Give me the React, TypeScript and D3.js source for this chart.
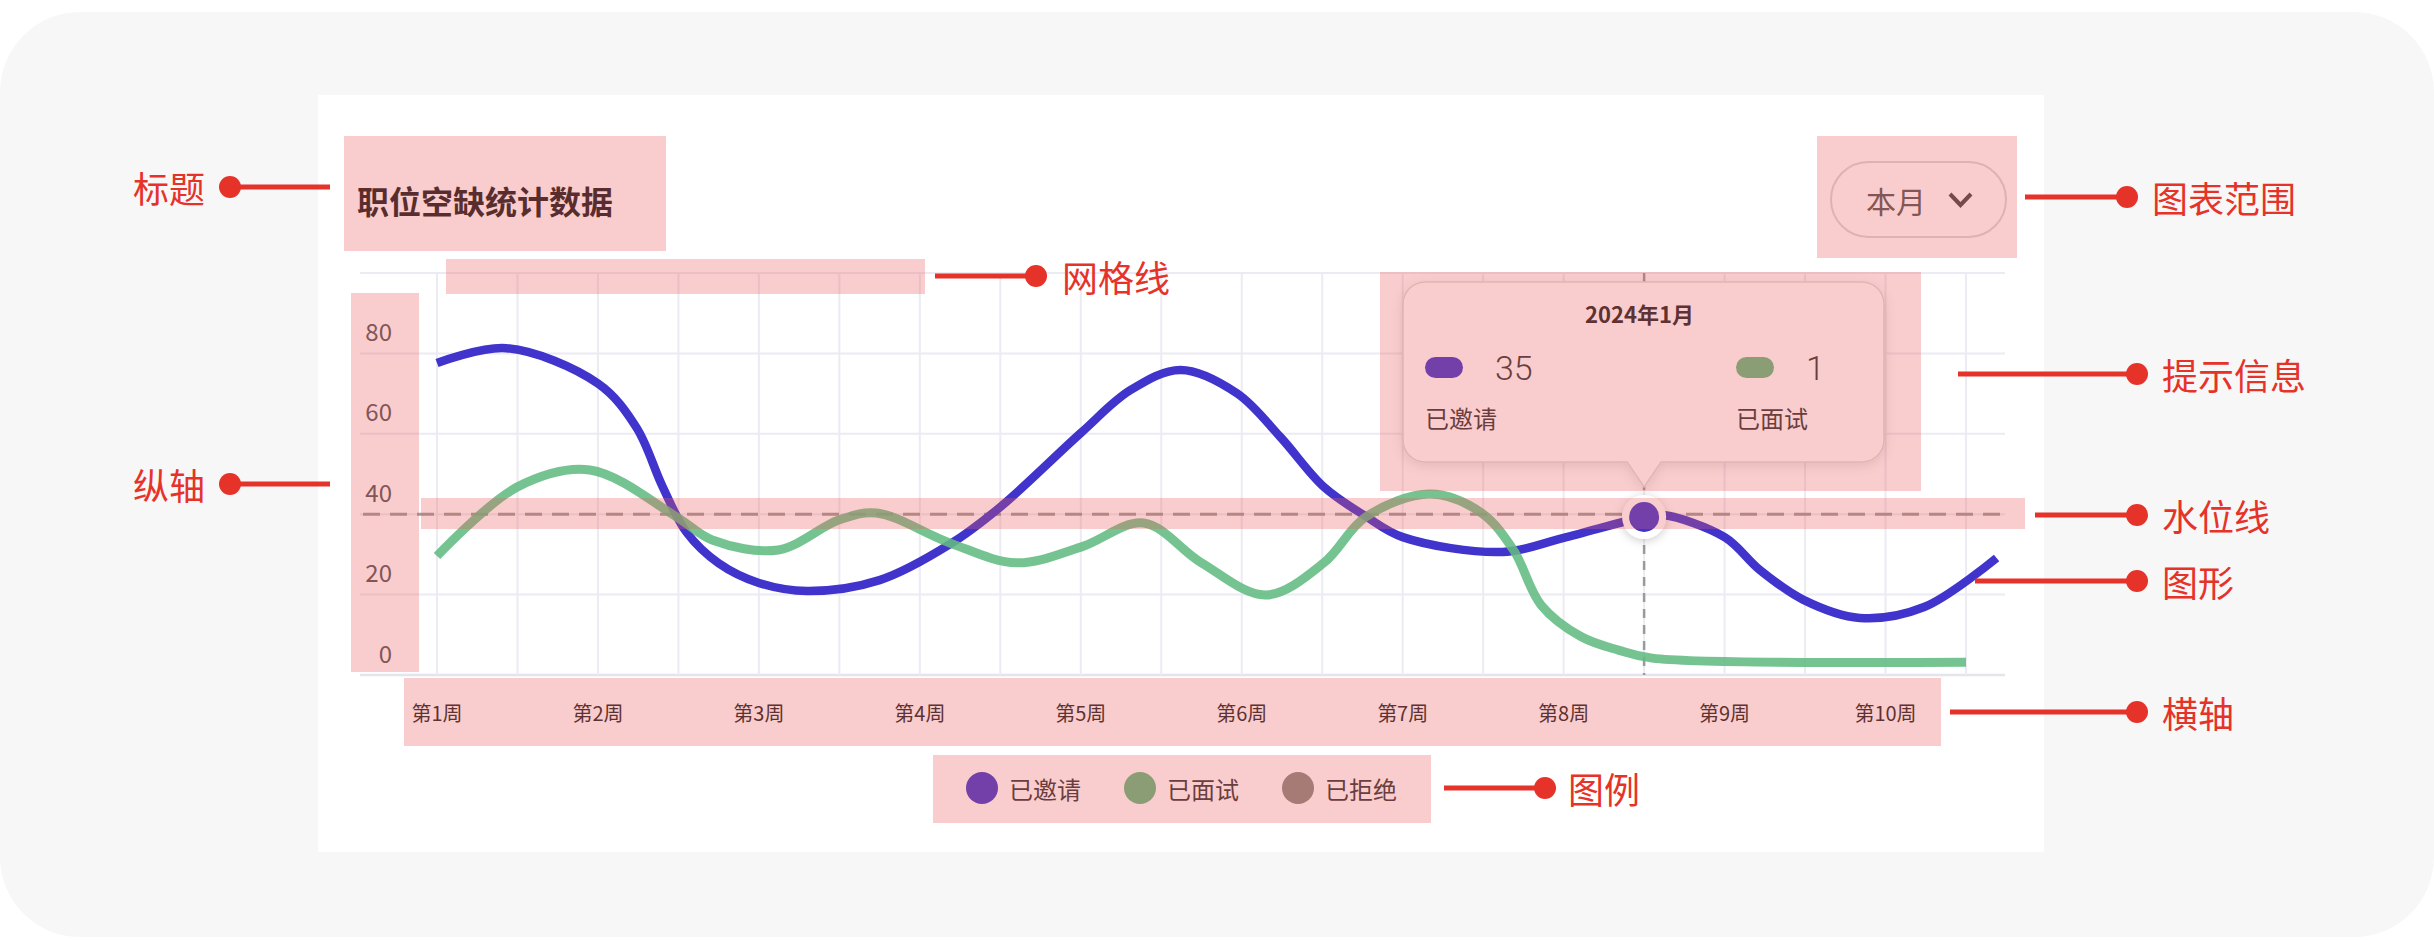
import React from 'react';
import * as d3 from 'd3';

// ---------- data ----------
const weekLabels = ['第1周', '第2周', '第3周', '第4周', '第5周', '第6周', '第7周', '第8周', '第9周', '第10周'];
const weekNums = [1, 2, 3, 4, 5, 6, 7, 8, 9, 10];
const yTickValues = [0, 20, 40, 60, 80];
const gridYValues = [0, 20, 40, 60, 80, 100];
const gridXWeeks = [1, 1.5, 2, 2.5, 3, 3.5, 4, 4.5, 5, 5.5, 6, 6.5, 7, 7.5, 8, 8.5, 9, 9.5, 10, 10.5];

const invitedWeeks = [1.0, 1.43, 2.0, 2.24, 2.4, 2.55, 2.75, 3.0, 3.3, 3.75, 4.19, 4.5, 5.0, 5.31, 5.62, 5.97, 6.24, 6.51, 6.77, 7.0, 7.62, 8.0, 8.5, 8.62, 9.0, 9.22, 9.49, 9.84, 10.24, 10.69];
const invitedValues = [77.6, 81.3, 72.5, 61.5, 47.0, 35.5, 27.8, 22.9, 20.9, 23.6, 32.6, 41.8, 60.2, 70.9, 75.9, 70.1, 59.2, 46.8, 39.5, 34.3, 30.6, 34.1, 39.3, 39.8, 34.3, 26.1, 18.7, 14.2, 16.9, 29.1];

const interviewedWeeks = [1.0, 1.5, 1.95, 2.49, 2.71, 3.12, 3.5, 3.73, 4.19, 4.6, 5.0, 5.39, 5.75, 6.15, 6.51, 6.77, 7.17, 7.49, 7.69, 7.86, 8.11, 8.34, 8.55, 10.5];
const interviewedValues = [29.6, 46.8, 51.0, 39.3, 33.6, 31.1, 38.6, 40.3, 32.8, 27.9, 31.8, 37.8, 27.9, 19.9, 27.9, 39.3, 45.0, 40.3, 31.0, 17.4, 9.5, 6.2, 4.2, 3.2];

const seriesNames = ['已邀请', '已面试', '已拒绝'];
const seriesColors = ['#4034cc', '#62bb82', '#888882'];
const markerLevel = 40;
const tooltipWeek = 8.5;
const tooltipTitle = '2024年1月';
const tooltipValues = ['35', '1'];
const chartTitle = '职位空缺统计数据';
const rangeLabel = '本月';

const RED = '#e6332a';
const PINK = 'rgba(235, 90, 90, 0.3)';
const CJK = '"Noto Sans CJK SC", "Noto Sans", sans-serif';

export default function App() {
  const x = d3.scaleLinear().domain([1, 10.5]).range([437, 1966]);
  const y = d3.scaleLinear().domain([0, 100]).range([675, 273]);

  const line = d3
    .line<[number, number]>()
    .x((d) => x(d[0]))
    .y((d) => y(d[1]))
    .curve(d3.curveCatmullRom.alpha(0.5));

  const invitedPath = line(invitedWeeks.map((w, i) => [w, invitedValues[i]]) as [number, number][]) || '';
  const interviewedPath = line(interviewedWeeks.map((w, i) => [w, interviewedValues[i]]) as [number, number][]) || '';

  const tipX = x(tooltipWeek);
  const tipIdx = invitedWeeks.indexOf(tooltipWeek);
  const tipY = y(invitedValues[tipIdx]);

  // tooltip card geometry
  const cx0 = 1403, cy0 = 282, cw = 481, ch = 180, r = 22;
  const tipBottom = 487;
  const cardPath = `M${cx0 + r},${cy0} H${cx0 + cw - r} A${r},${r} 0 0 1 ${cx0 + cw},${cy0 + r} V${cy0 + ch - r} A${r},${r} 0 0 1 ${cx0 + cw - r},${cy0 + ch} H${tipX + 17} L${tipX},${tipBottom} L${tipX - 17},${cy0 + ch} H${cx0 + r} A${r},${r} 0 0 1 ${cx0},${cy0 + ch - r} V${cy0 + r} A${r},${r} 0 0 1 ${cx0 + r},${cy0} Z`;

  const gridColor = '#ebebf3';

  const leftAnnotations = [
    { label: '标题', y: 187 },
    { label: '纵轴', y: 484 },
  ];
  const rightAnnotations = [
    { label: '图表范围', y: 197, x1: 2025, dot: 2127, tx: 2152 },
    { label: '提示信息', y: 374, x1: 1958, dot: 2137, tx: 2162 },
    { label: '水位线', y: 515, x1: 2035, dot: 2137, tx: 2162 },
    { label: '图形', y: 581, x1: 1975, dot: 2137, tx: 2162 },
    { label: '横轴', y: 712, x1: 1950, dot: 2137, tx: 2162 },
  ];
  const midAnnotations = [
    { label: '网格线', y: 276, x1: 935, dot: 1036, tx: 1062 },
    { label: '图例', y: 788, x1: 1444, dot: 1545, tx: 1568 },
  ];

  const pinkBoxes = [
    [344, 136, 322, 115], // title
    [446, 259, 479, 35], // grid
    [351, 293, 68, 379], // y axis
    [1380, 272, 541, 219], // tooltip
    [421, 498, 1604, 31], // marker line
    [404, 678, 1537, 68], // x axis
    [933, 755, 498, 68], // legend
    [1817, 136, 200, 122], // range
  ];

  const legendX = [982, 1140, 1298];

  return (
    <svg
      width={2434}
      height={940}
      style={{ position: 'absolute', left: 0, top: 0, display: 'block' }}
      fontFamily={CJK}
    >
      <defs>
        <filter id="cardShadow" x="-10%" y="-10%" width="120%" height="130%">
          <feDropShadow dx="0" dy="3" stdDeviation="6" floodColor="#000" floodOpacity="0.12" />
        </filter>
        <filter id="haloShadow" x="-100%" y="-100%" width="300%" height="300%">
          <feDropShadow dx="0" dy="2" stdDeviation="5" floodColor="#000" floodOpacity="0.2" />
        </filter>
      </defs>

      <rect x={0} y={0} width={2434} height={940} fill="#ffffff" />
      <rect x={0} y={12} width={2434} height={925} rx={80} ry={80} fill="#f7f7f7" />
      <rect x={318} y={95} width={1726} height={757} fill="#ffffff" />

      {/* grid */}
      {gridYValues.map((v) => (
        <line key={'gy' + v} x1={360} x2={2005} y1={y(v)} y2={y(v)} stroke={v === 0 ? '#e4e4ec' : gridColor} strokeWidth={v === 0 ? 2.5 : 2} />
      ))}
      {gridXWeeks.map((w) => (
        <line key={'gx' + w} x1={x(w)} x2={x(w)} y1={y(100)} y2={y(0)} stroke={gridColor} strokeWidth={2} />
      ))}

      {/* marker line */}
      <line x1={363} x2={2005} y1={y(markerLevel)} y2={y(markerLevel)} stroke="#a09a9a" strokeWidth={3} strokeDasharray="17 10" />
      {/* crosshair */}
      <line x1={tipX} x2={tipX} y1={y(100)} y2={y(0)} stroke="#9a9a9a" strokeWidth={2.5} strokeDasharray="9 7" />

      {/* series */}
      <path d={invitedPath} fill="none" stroke={seriesColors[0]} strokeWidth={8.5} />
      <path d={interviewedPath} fill="none" stroke={seriesColors[1]} strokeWidth={9} strokeOpacity={0.88} />

      {/* hover point */}
      <circle cx={tipX} cy={tipY} r={22} fill="#fff" filter="url(#haloShadow)" />
      <circle cx={tipX} cy={tipY} r={15} fill={seriesColors[0]} />

      {/* tooltip */}
      <path d={cardPath} fill="#ffffff" stroke="#dcdcdc" strokeWidth={1.5} filter="url(#cardShadow)" />
      <text x={cx0 + cw / 2 - 4} y={313} textAnchor="middle" dominantBaseline="central" fontSize={22} fontWeight={700} fill="#222">
        {tooltipTitle}
      </text>
      {[1425, 1736].map((px, i) => (
        <g key={'tt' + i}>
          <rect x={px} y={357} width={38} height={21} rx={10.5} fill={seriesColors[i]} />
          <text x={px + 70} y={368} dominantBaseline="central" fontSize={34} fontWeight={300} fontFamily='Roboto, "Noto Sans", sans-serif' fill="#333">
            {tooltipValues[i]}
          </text>
          <text x={px} y={417} dominantBaseline="central" fontSize={24} fill="#333">
            {seriesNames[i]}
          </text>
        </g>
      ))}

      {/* y axis labels */}
      {yTickValues.map((v) => (
        <text key={'yl' + v} x={392} y={y(v) - 23} textAnchor="end" dominantBaseline="central" fontSize={24} fill="#555">
          {v}
        </text>
      ))}
      {/* x axis labels */}
      {weekNums.map((w, i) => (
        <text key={'xl' + w} x={x(w)} y={712} textAnchor="middle" dominantBaseline="central" fontSize={20} fill="#222">
          {weekLabels[i]}
        </text>
      ))}

      {/* title */}
      <text x={357} y={200} dominantBaseline="central" fontSize={32} fontWeight={700} fill="#1a1a1a">
        {chartTitle}
      </text>

      {/* range selector */}
      <rect x={1831} y={162} width={175} height={75} rx={37.5} fill="#fff" stroke="#d8d8d8" strokeWidth={2} />
      <text x={1866} y={200} dominantBaseline="central" fontSize={30} fill="#555">
        {rangeLabel}
      </text>
      <polyline points="1950,194 1960.5,205 1971,194" fill="none" stroke="#444" strokeWidth={4} />

      {/* legend */}
      {seriesNames.map((name, i) => (
        <g key={'lg' + i}>
          <circle cx={legendX[i]} cy={788} r={16} fill={seriesColors[i]} />
          <text x={legendX[i] + 27} y={788} dominantBaseline="central" fontSize={24} fill="#333">
            {name}
          </text>
        </g>
      ))}

      {/* pink highlight overlays */}
      {pinkBoxes.map((b, i) => (
        <rect key={'pk' + i} x={b[0]} y={b[1]} width={b[2]} height={b[3]} fill={PINK} />
      ))}

      {/* annotations */}
      {leftAnnotations.map((a) => (
        <g key={a.label}>
          <text x={205} y={a.y} textAnchor="end" dominantBaseline="central" fontSize={36} fill={RED}>
            {a.label}
          </text>
          <line x1={230} x2={330} y1={a.y} y2={a.y} stroke={RED} strokeWidth={5} />
          <circle cx={230} cy={a.y} r={11} fill={RED} />
        </g>
      ))}
      {[...midAnnotations, ...rightAnnotations].map((a) => (
        <g key={a.label}>
          <line x1={a.x1} x2={a.dot} y1={a.y} y2={a.y} stroke={RED} strokeWidth={5} />
          <circle cx={a.dot} cy={a.y} r={11} fill={RED} />
          <text x={a.tx} y={a.y} dominantBaseline="central" fontSize={36} fill={RED}>
            {a.label}
          </text>
        </g>
      ))}
    </svg>
  );
}
